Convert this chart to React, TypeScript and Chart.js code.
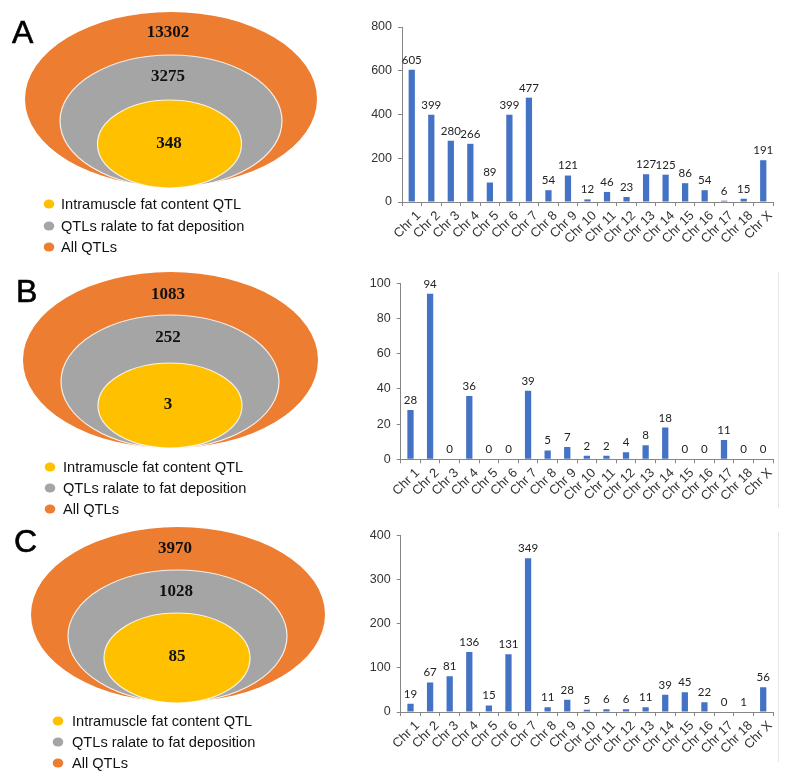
import React, { useEffect, useRef } from 'react';
import { Chart, registerables } from 'chart.js';

Chart.register(...registerables);

// ---------- data ----------
const chrLabels = ['Chr 1', 'Chr 2', 'Chr 3', 'Chr 4', 'Chr 5', 'Chr 6', 'Chr 7', 'Chr 8', 'Chr 9', 'Chr 10',
  'Chr 11', 'Chr 12', 'Chr 13', 'Chr 14', 'Chr 15', 'Chr 16', 'Chr 17', 'Chr 18', 'Chr X'];
const countsA = [605, 399, 280, 266, 89, 399, 477, 54, 121, 12, 46, 23, 127, 125, 86, 54, 6, 15, 191];
const countsB = [28, 94, 0, 36, 0, 0, 39, 5, 7, 2, 2, 4, 8, 18, 0, 0, 11, 0, 0];
const countsC = [19, 67, 81, 136, 15, 131, 349, 11, 28, 5, 6, 6, 11, 39, 45, 22, 0, 1, 56];
const yMaxA = 800; const yStepA = 200;
const yMaxB = 100; const yStepB = 20;
const yMaxC = 400; const yStepC = 100;

const legendLabels = ['Intramuscle fat content QTL', 'QTLs ralate to fat deposition', 'All QTLs'];
// inner -> outer
const totalsA = [348, 3275, 13302];
const totalsB = [3, 252, 1083];
const totalsC = [85, 1028, 3970];
const panelLetters = ['A', 'B', 'C'];

// ---------- styles / layout ----------
const ringColors = ['#FFC000', '#A5A5A5', '#ED7D31'];
const barColor = '#4472C4';
const axisColor = '#868686';
const textColor = '#333333';

type Ell = { cx: number; cy: number; rx: number; ry: number };
type Geom = {
  ells: Ell[]; // inner -> outer
  texts: [number, number][]; // inner -> outer
  letter: [number, number];
  legendX: number; legendTextX: number; legendY: number[];
};

const geomA: Geom = {
  ells: [
    { cx: 169.5, cy: 144, rx: 72, ry: 44 },
    { cx: 171, cy: 121, rx: 111, ry: 66 },
    { cx: 171, cy: 99, rx: 146, ry: 87 },
  ],
  texts: [[169, 144], [168, 77], [168, 33]],
  letter: [12, 43],
  legendX: 49, legendTextX: 61, legendY: [204, 226, 247],
};
const geomB: Geom = {
  ells: [
    { cx: 170, cy: 145.5, rx: 72, ry: 42.5 },
    { cx: 170, cy: 121.5, rx: 109, ry: 66.5 },
    { cx: 170.5, cy: 100, rx: 147.5, ry: 88 },
  ],
  texts: [[168, 145], [168, 78], [168, 35]],
  letter: [16, 42],
  legendX: 50, legendTextX: 63, legendY: [207, 228, 249],
};
const geomC: Geom = {
  ells: [
    { cx: 177, cy: 138, rx: 73, ry: 45 },
    { cx: 177.5, cy: 116, rx: 109.5, ry: 66 },
    { cx: 178, cy: 94.5, rx: 147, ry: 87.5 },
  ],
  texts: [[177, 137], [176, 72], [175, 29]],
  letter: [14, 32],
  legendX: 58, legendTextX: 72, legendY: [201, 222, 243],
};

function NestedEllipses(props: { totals: number[]; letter: string; geom: Geom; width: number; height: number }) {
  const ref = useRef<HTMLCanvasElement>(null);
  useEffect(() => {
    const { totals, letter, geom, width, height } = props;
    const plugin = {
      id: 'nestedEllipses',
      afterDraw(chart: any) {
        const ctx = chart.ctx as CanvasRenderingContext2D;
        const xs = chart.scales.x;
        const ys = chart.scales.y;
        const px = (v: number) => xs.getPixelForValue(v);
        const py = (v: number) => ys.getPixelForValue(v);
        const dx = (d: number) => Math.abs(px(d) - px(0));
        const dy = (d: number) => Math.abs(py(d) - py(0));
        ctx.save();
        for (let i = geom.ells.length - 1; i >= 0; i--) {
          const e = geom.ells[i];
          ctx.beginPath();
          ctx.ellipse(px(e.cx), py(e.cy), dx(e.rx), dy(e.ry), 0, 0, Math.PI * 2);
          ctx.fillStyle = chart.data.datasets[i].backgroundColor;
          ctx.fill();
          if (i < geom.ells.length - 1) {
            ctx.strokeStyle = 'rgba(255,255,255,0.85)';
            ctx.lineWidth = 1.2;
            ctx.stroke();
          }
        }
        ctx.font = 'bold 17px "Liberation Serif", "Times New Roman", serif';
        ctx.fillStyle = '#111';
        ctx.textAlign = 'center';
        ctx.textBaseline = 'middle';
        totals.forEach((t, i) => {
          ctx.fillText(String(t), px(geom.texts[i][0]), py(geom.texts[i][1]));
        });
        ctx.font = '32px "Liberation Sans", Arial, sans-serif';
        ctx.fillStyle = '#000';
        ctx.textAlign = 'left';
        ctx.textBaseline = 'alphabetic';
        ctx.lineWidth = 0.6;
        ctx.strokeStyle = '#000';
        ctx.fillText(letter, px(geom.letter[0]), py(geom.letter[1]));
        ctx.strokeText(letter, px(geom.letter[0]), py(geom.letter[1]));
        ctx.font = '14.6px "Liberation Sans", Arial, sans-serif';
        ctx.textBaseline = 'middle';
        chart.data.datasets.forEach((ds: any, i: number) => {
          const y = py(geom.legendY[i]);
          ctx.beginPath();
          ctx.ellipse(px(geom.legendX), y, 5.3, 4.6, 0, 0, Math.PI * 2);
          ctx.fillStyle = ds.backgroundColor;
          ctx.fill();
          ctx.fillStyle = '#111';
          ctx.fillText(ds.label, px(geom.legendTextX), y + 0.5);
        });
        ctx.restore();
      },
    };
    const chart = new Chart(ref.current as HTMLCanvasElement, {
      type: 'scatter',
      data: {
        datasets: legendLabels.map((l, i) => ({ label: l, data: [], backgroundColor: ringColors[i] })),
      },
      options: {
        animation: false,
        responsive: false,
        maintainAspectRatio: false,
        layout: { padding: 0 },
        plugins: { legend: { display: false }, tooltip: { enabled: false } },
        scales: {
          x: { type: 'linear', min: 0, max: width, display: false },
          y: { type: 'linear', min: 0, max: height, reverse: true, display: false },
        },
      },
      plugins: [plugin],
    } as any);
    return () => chart.destroy();
  }, []);
  return <canvas ref={ref} width={props.width} height={props.height} style={{ display: 'block', width: props.width, height: props.height }} />;
}

function BarPanel(props: {
  values: number[]; max: number; step: number; width: number; height: number;
  top: number; yAxisW: number; xAxisH: number; right: number; frame: boolean;
}) {
  const ref = useRef<HTMLCanvasElement>(null);
  useEffect(() => {
    const { values, max, step, top, yAxisW, xAxisH, right, frame, width, height } = props;
    const labelPlugin = {
      id: 'valueLabels',
      afterDatasetsDraw(chart: any) {
        const ctx = chart.ctx as CanvasRenderingContext2D;
        const meta = chart.getDatasetMeta(0);
        const data = chart.data.datasets[0].data as number[];
        ctx.save();
        ctx.font = '11.5px Lato, "Open Sans", sans-serif';
        ctx.fillStyle = '#222';
        ctx.textAlign = 'center';
        ctx.textBaseline = 'bottom';
        meta.data.forEach((bar: any, i: number) => {
          ctx.fillText(String(data[i]), bar.x, bar.y - 4);
        });
        ctx.restore();
      },
      afterDraw(chart: any) {
        if (!frame) return;
        const ctx = chart.ctx as CanvasRenderingContext2D;
        ctx.save();
        ctx.strokeStyle = '#e6e6e6';
        ctx.lineWidth = 1;
        ctx.beginPath();
        ctx.moveTo(width - 15.5, 12);
        ctx.lineTo(width - 15.5, height - 12);
        ctx.stroke();
        ctx.restore();
      },
    };
    const chart = new Chart(ref.current as HTMLCanvasElement, {
      type: 'bar',
      data: {
        labels: chrLabels,
        datasets: [{ data: values, backgroundColor: barColor, barPercentage: 0.32, categoryPercentage: 1 }],
      },
      options: {
        animation: false,
        responsive: false,
        maintainAspectRatio: false,
        layout: { padding: { top, right, left: 0, bottom: 0 } },
        plugins: { legend: { display: false }, tooltip: { enabled: false } },
        scales: {
          x: {
            grid: { drawOnChartArea: false, drawTicks: true, tickLength: 4, color: axisColor, offset: true },
            border: { color: axisColor, width: 1 },
            ticks: {
              autoSkip: false, maxRotation: 45, minRotation: 45, padding: 2, labelOffset: 7,
              font: { family: '"Liberation Sans", Arial, sans-serif', size: 13 }, color: textColor,
            },
            afterFit: (s: any) => { s.height = xAxisH; },
          },
          y: {
            min: 0, max,
            grid: { drawOnChartArea: false, drawTicks: true, tickLength: 4, color: axisColor },
            border: { color: axisColor, width: 1 },
            ticks: {
              stepSize: step, padding: 6,
              font: { family: '"Liberation Sans", Arial, sans-serif', size: 12.5 }, color: textColor,
            },
            afterFit: (s: any) => { s.width = yAxisW; },
          },
        },
      },
      plugins: [labelPlugin],
    } as any);
    return () => chart.destroy();
  }, []);
  return <canvas ref={ref} width={props.width} height={props.height} style={{ display: 'block', width: props.width, height: props.height }} />;
}

export default function App() {
  const abs = (left: number, top: number): React.CSSProperties => ({ position: 'absolute', left, top });
  return (
    <div style={{ position: 'absolute', left: 0, top: 0, width: 794, height: 774, background: '#fff', overflow: 'hidden' }}>
      <div style={abs(0, 0)}>
        <NestedEllipses totals={totalsA} letter={panelLetters[0]} geom={geomA} width={360} height={260} />
      </div>
      <div style={abs(360, 0)}>
        <BarPanel values={countsA} max={yMaxA} step={yStepA} width={434} height={260}
          top={27} yAxisW={42} xAxisH={58} right={21} frame={false} />
      </div>
      <div style={abs(0, 260)}>
        <NestedEllipses totals={totalsB} letter={panelLetters[1]} geom={geomB} width={360} height={260} />
      </div>
      <div style={abs(360, 260)}>
        <BarPanel values={countsB} max={yMaxB} step={yStepB} width={434} height={260}
          top={23.3} yAxisW={40.7} xAxisH={60.7} right={21} frame={true} />
      </div>
      <div style={abs(0, 520)}>
        <NestedEllipses totals={totalsC} letter={panelLetters[2]} geom={geomC} width={360} height={254} />
      </div>
      <div style={abs(360, 520)}>
        <BarPanel values={countsC} max={yMaxC} step={yStepC} width={434} height={254}
          top={15.7} yAxisW={40.7} xAxisH={62} right={21} frame={true} />
      </div>
    </div>
  );
}
